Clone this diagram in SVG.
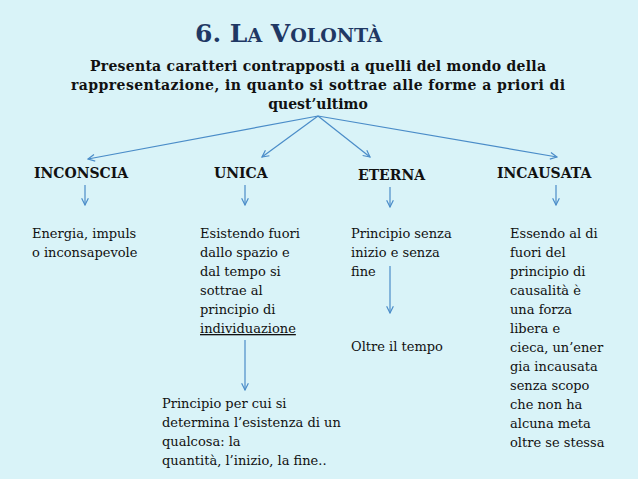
<svg xmlns="http://www.w3.org/2000/svg" width="638" height="479" viewBox="0 0 638 479">
<style>
text{font-family:"DejaVu Serif","Liberation Serif",serif;fill:#111}
.h{font-weight:bold;font-size:14px}
.s{font-weight:bold;font-size:14px;text-anchor:middle}
.t{font-size:13px}
.c line{stroke:#4a8cc8;stroke-width:1.2}
</style>
<defs><marker id="a" viewBox="0 0 10 10" refX="9" refY="5" markerWidth="7" markerHeight="7" orient="auto"><path d="M1,1 L9,5 L1,9" fill="none" stroke="#4a8cc8" stroke-width="1.4"/></marker></defs>
<rect width="638" height="479" fill="#d9f3f8"/>
<g id="title"><text x="195" y="42" style="font-weight:bold;font-size:25px;fill:#1f3864">6. L<tspan font-size="19">A</tspan> V<tspan font-size="19">OLONTÀ</tspan></text></g>
<g id="root"><text class="s" x="318" y="71" textLength="456">Presenta caratteri contrapposti a quelli del mondo della</text><text class="s" x="318" y="90" textLength="494">rappresentazione, in quanto si sottrae alle forme a priori di</text><text class="s" x="318" y="109">quest’ultimo</text></g>
<g class="c">
<line x1="318" y1="116" x2="88" y2="159" marker-end="url(#a)"/>
<line x1="318" y1="116" x2="262" y2="157" marker-end="url(#a)"/>
<line x1="318" y1="116" x2="370" y2="157" marker-end="url(#a)"/>
<line x1="318" y1="116" x2="557" y2="157" marker-end="url(#a)"/>
<line x1="85" y1="185" x2="85" y2="205" marker-end="url(#a)"/>
<line x1="245" y1="185" x2="245" y2="205" marker-end="url(#a)"/>
<line x1="390" y1="187" x2="390" y2="207" marker-end="url(#a)"/>
<line x1="556" y1="185" x2="556" y2="205" marker-end="url(#a)"/>
<line x1="390" y1="266" x2="390" y2="313" marker-end="url(#a)"/>
<line x1="245" y1="340" x2="245" y2="390" marker-end="url(#a)"/>
</g>
<g id="inconscia"><text class="h" x="34" y="178">INCONSCIA</text></g>
<g id="unica"><text class="h" x="214" y="178">UNICA</text></g>
<g id="eterna"><text class="h" x="358" y="180">ETERNA</text></g>
<g id="incausata"><text class="h" x="497" y="178">INCAUSATA</text></g>
<g id="n1"><text class="t" x="32" y="238">Energia, impuls</text><text class="t" x="32" y="257">o inconsapevole</text></g>
<g id="n2"><text class="t" x="200" y="238">Esistendo fuori</text><text class="t" x="200" y="257">dallo spazio e</text><text class="t" x="200" y="276">dal tempo si</text><text class="t" x="200" y="295">sottrae al</text><text class="t" x="200" y="314">principio di</text><text class="t" x="200" y="333" text-decoration="underline">individuazione</text></g>
<g id="n3"><text class="t" x="351" y="238">Principio senza</text><text class="t" x="351" y="257">inizio e senza</text><text class="t" x="351" y="276">fine</text></g>
<g id="n4"><text class="t" x="351" y="351">Oltre il tempo</text></g>
<g id="n5"><text class="t" x="510" y="238">Essendo al di</text><text class="t" x="510" y="257">fuori del</text><text class="t" x="510" y="276">principio di</text><text class="t" x="510" y="295">causalità è</text><text class="t" x="510" y="314">una forza</text><text class="t" x="510" y="333">libera e</text><text class="t" x="510" y="352">cieca, un’ener</text><text class="t" x="510" y="371">gia incausata</text><text class="t" x="510" y="390">senza scopo</text><text class="t" x="510" y="409">che non ha</text><text class="t" x="510" y="428">alcuna meta</text><text class="t" x="510" y="447">oltre se stessa</text></g>
<g id="n6"><text class="t" x="162" y="408">Principio per cui si</text><text class="t" x="162" y="427">determina l’esistenza di un</text><text class="t" x="162" y="446">qualcosa: la</text><text class="t" x="162" y="465">quantità, l’inizio, la fine..</text></g>
</svg>
